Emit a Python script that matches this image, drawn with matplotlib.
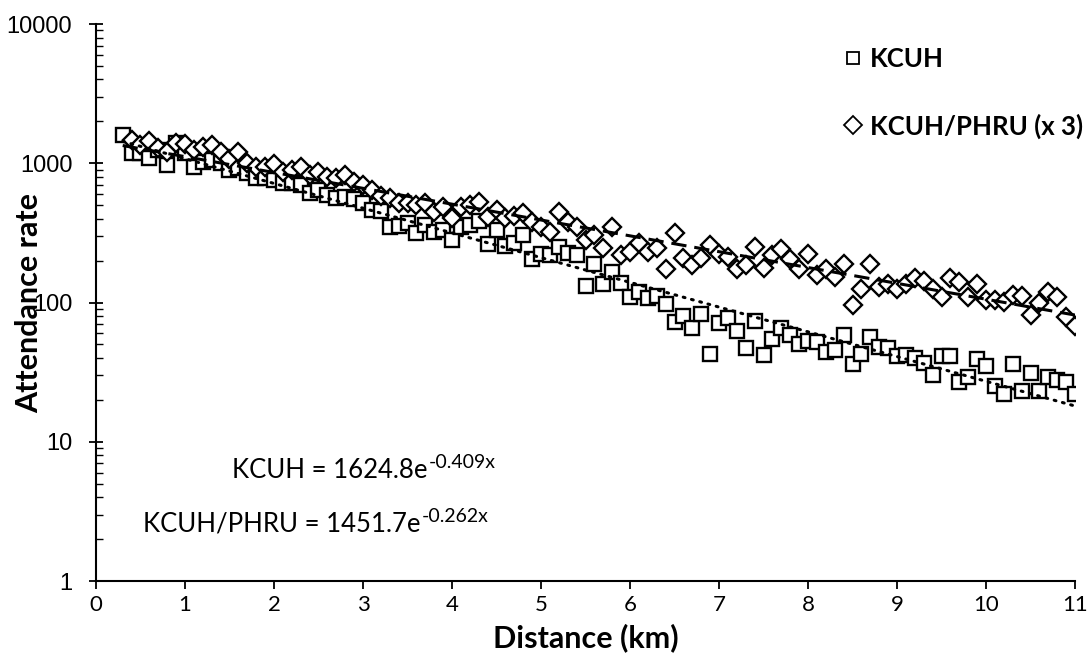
# Attendance rate vs distance, KCUH and KCUH/PHRU (x 3), log scale

import numpy as np
import matplotlib.pyplot as plt
from matplotlib.lines import Line2D

# data
kcuh_x = np.round(np.arange(3, 111) * 0.1, 1)
kcuh_y = [1600, 1180, 1180, 1090, 1240, 970, 1390, 1180, 940, 1030,
          1050, 1000, 900, 920, 850, 780, 780, 760, 720, 720,
          700, 610, 640, 590, 560, 575, 550, 515, 460, 455,
          350, 355, 370, 317, 360, 322, 330, 281, 350, 360,
          387, 263, 332, 255, 269, 305, 204, 225, 219, 249,
          228, 219, 131, 189, 135, 166, 139, 109, 120, 107,
          111, 97, 72, 80, 66, 83, 43, 71, 77, 62,
          47, 74, 42, 55, 66, 58, 50, 53, 52, 44,
          46, 58, 36, 43, 57, 48, 47, 41, 42, 40,
          37, 30, 41, 41, 27, 29, 39, 35, 25, 22,
          36, 23, 31, 23, 29, 28, 27, 22]

phru_x = np.round(np.arange(4, 111) * 0.1, 1)
phru_y = [1470, 1350, 1450, 1280, 1200, 1400, 1380, 1240, 1310,
          1350, 1210, 1070, 1210, 1000, 944, 944, 988, 869, 895,
          944, 824, 869, 793, 780, 824, 738, 698, 643, 582,
          560, 516, 521, 501, 516, 449, 488, 403, 488, 501,
          529, 413, 462, 403, 418, 437, 380, 350, 322, 449,
          380, 350, 281, 305, 245, 350, 219, 232, 266, 232,
          245, 173, 314, 208, 186, 208, 259, 225, 213, 173,
          187, 249, 177, 219, 241, 204, 173, 222, 157, 173,
          153, 189, 96, 126, 189, 130, 137, 126, 135, 150,
          143, 126, 110, 149, 141, 110, 137, 104, 104, 101,
          113, 111, 81, 99, 120, 109, 79, 68]

# exponential trendlines shown on the chart
kcuh_a, kcuh_b = 1624.8, -0.409
phru_a, phru_b = 1451.7, -0.262

fig = plt.figure(figsize=(10.87, 6.69), dpi=100)
ax = fig.add_axes([0.0883, 0.1315, 0.9007, 0.8325])

ax.plot(kcuh_x, kcuh_y, linestyle='none', marker='s', markersize=10,
        markerfacecolor='white', markeredgecolor='black', markeredgewidth=1.7)
ax.plot(phru_x, phru_y, linestyle='none', marker='D', markersize=9.5,
        markerfacecolor='white', markeredgecolor='black', markeredgewidth=1.7)

xt = np.linspace(0.3, 11, 200)
ax.plot(xt, kcuh_a * np.exp(kcuh_b * xt), color='black', lw=2.2,
        linestyle=(0, (0.6, 2.2)), dash_capstyle='round', zorder=3)
ax.plot(xt, phru_a * np.exp(phru_b * xt), color='black', lw=2.2,
        linestyle=(0, (5, 2.6)), zorder=3)

ax.set_yscale('log')
ax.set_ylim(1, 10000)
ax.set_xlim(0, 11)
ax.set_xticks(range(0, 12))
ax.set_yticks([1, 10, 100, 1000, 10000])
ax.set_yticklabels(['1', '10', '100', '1000', '10000'], family='Liberation Sans', fontsize=17)
ax.set_xticklabels([str(i) for i in range(12)], family='Lato', fontsize=16)
ax.tick_params(axis='x', direction='out', length=6, width=1.3, pad=4)
ax.tick_params(axis='y', which='major', direction='inout', length=10, width=1.3, pad=12)
ax.tick_params(axis='y', which='minor', direction='in', length=5, width=1.0)
ax.yaxis.set_minor_formatter(plt.NullFormatter())

for s in ['top', 'right']:
    ax.spines[s].set_visible(False)
for s in ['left', 'bottom']:
    ax.spines[s].set_linewidth(1.5)

ax.set_xlabel('Distance (km)', family='Lato', fontweight='bold', fontsize=22)
ax.set_ylabel('Attendance rate', family='Lato', fontweight='bold', fontsize=22)
ax.xaxis.set_label_coords(0.5, -0.075)
ax.yaxis.set_label_coords(-0.054, 0.5)

# trendline equations, superscript drawn as a second text
fig.canvas.draw()
renderer = fig.canvas.get_renderer()
eqs = [(1.53, 6.27, 'KCUH = 1624.8e', '-0.409x'),
       (0.53, 2.57, 'KCUH/PHRU = 1451.7e', '-0.262x')]
for ex, ey, main, sup in eqs:
    t = ax.text(ex, ey, main, family='Lato', fontsize=18.5, va='center')
    bb = t.get_window_extent(renderer)
    ax.annotate(sup, xy=(bb.x1, bb.y1), xycoords='figure pixels',
                xytext=(1, -5), textcoords='offset pixels',
                family='Lato', fontsize=14, va='center', ha='left')

handles = [Line2D([], [], linestyle='none', marker='s', markersize=9,
                  markerfacecolor='white', markeredgecolor='black', markeredgewidth=1.3),
           Line2D([], [], linestyle='none', marker='D', markersize=9,
                  markerfacecolor='white', markeredgecolor='black', markeredgewidth=1.3)]
ax.legend(handles, ['KCUH', 'KCUH/PHRU (x 3)'], loc='upper left',
          bbox_to_anchor=(0.750, 0.978), frameon=False,
          prop={'family': 'Lato', 'weight': 'bold', 'size': 18.5},
          labelspacing=1.66, handletextpad=0.16, handlelength=1.0,
          borderaxespad=0)

fig.savefig('out.png', dpi=100)
